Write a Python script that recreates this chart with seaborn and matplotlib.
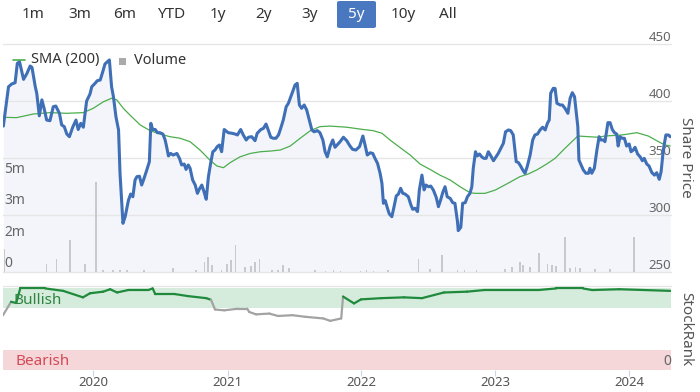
import numpy as np
import pandas as pd
import matplotlib.pyplot as plt
import matplotlib.dates as mdates
import matplotlib.transforms as mtransforms
from matplotlib.collections import LineCollection
from matplotlib.lines import Line2D
from matplotlib.patches import FancyBboxPatch, Rectangle
import seaborn as sns

# --- data ---
range_buttons = ["1m", "3m", "6m", "YTD", "1y", "2y", "3y", "5y", "10y", "All"]
selected_range = "5y"
year_labels = ["2020", "2021", "2022", "2023", "2024"]
price_ticks = [250, 300, 350, 400, 450]
volume_ticks = [0, 1.6, 3.2, 4.8]
volume_tick_labels = ["0", "2m", "3m", "5m"]

price_dates = [
    "2019-05-01", "2019-05-15", "2019-05-24", "2019-06-02", "2019-06-08", "2019-06-14", "2019-06-25",
    "2019-07-04", "2019-07-13", "2019-07-18", "2019-07-27", "2019-07-31", "2019-08-07", "2019-08-14",
    "2019-08-20", "2019-08-27", "2019-09-05", "2019-09-14", "2019-09-21", "2019-10-01", "2019-10-07",
    "2019-10-14", "2019-10-21", "2019-10-28", "2019-11-06", "2019-11-15", "2019-11-21", "2019-11-28",
    "2019-12-05", "2019-12-14", "2019-12-23", "2019-12-28", "2020-01-06", "2020-01-12", "2020-01-20",
    "2020-01-27", "2020-02-02", "2020-02-09", "2020-02-14", "2020-02-20", "2020-02-25", "2020-03-03",
    "2020-03-10", "2020-03-14", "2020-03-22", "2020-03-28", "2020-04-06", "2020-04-12", "2020-04-18",
    "2020-04-24", "2020-04-29", "2020-05-06", "2020-05-12", "2020-05-17", "2020-05-26", "2020-06-02",
    "2020-06-06", "2020-06-11", "2020-06-18", "2020-06-24", "2020-07-01", "2020-07-09", "2020-07-15",
    "2020-07-19", "2020-07-24", "2020-07-30", "2020-08-06", "2020-08-16", "2020-08-23", "2020-08-29",
    "2020-09-05", "2020-09-10", "2020-09-16", "2020-09-21", "2020-09-28", "2020-10-05", "2020-10-11",
    "2020-10-16", "2020-10-23", "2020-10-29", "2020-11-04", "2020-11-10", "2020-11-16", "2020-11-22",
    "2020-11-28", "2020-12-04", "2020-12-10", "2020-12-16", "2020-12-23", "2021-01-03", "2021-01-13",
    "2021-01-22", "2021-01-28", "2021-02-06", "2021-02-13", "2021-02-21", "2021-02-27", "2021-03-08",
    "2021-03-17", "2021-03-23", "2021-04-02", "2021-04-09", "2021-04-16", "2021-04-22", "2021-04-29",
    "2021-05-06", "2021-05-13", "2021-05-20", "2021-05-26", "2021-06-02", "2021-06-10", "2021-06-16",
    "2021-06-22", "2021-06-30", "2021-07-04", "2021-07-10", "2021-07-16", "2021-07-22", "2021-07-29",
    "2021-08-05", "2021-08-12", "2021-08-19", "2021-08-25", "2021-09-03", "2021-09-10", "2021-09-18",
    "2021-09-24", "2021-09-30", "2021-10-08", "2021-10-15", "2021-10-21", "2021-11-04", "2021-11-13",
    "2021-11-22", "2021-12-01", "2021-12-08", "2021-12-17", "2021-12-27", "2022-01-05", "2022-01-11",
    "2022-01-17", "2022-01-25", "2022-02-01", "2022-02-07", "2022-02-14", "2022-02-21", "2022-02-26",
    "2022-03-02", "2022-03-07", "2022-03-13", "2022-03-18", "2022-03-25", "2022-03-31", "2022-04-06",
    "2022-04-12", "2022-04-18", "2022-04-24", "2022-04-30", "2022-05-09", "2022-05-16", "2022-05-21",
    "2022-05-27", "2022-06-03", "2022-06-08", "2022-06-15", "2022-06-21", "2022-06-26", "2022-07-03",
    "2022-07-09", "2022-07-16", "2022-07-24", "2022-07-30", "2022-08-05", "2022-08-11", "2022-08-17",
    "2022-08-23", "2022-08-31", "2022-09-07", "2022-09-13", "2022-09-20", "2022-09-22", "2022-09-29",
    "2022-10-04", "2022-10-11", "2022-10-17", "2022-10-24", "2022-10-29", "2022-11-02", "2022-11-08",
    "2022-11-13", "2022-11-19", "2022-11-25", "2022-12-01", "2022-12-07", "2022-12-13", "2022-12-20",
    "2022-12-27", "2023-01-03", "2023-01-09", "2023-01-16", "2023-01-23", "2023-01-29", "2023-02-06",
    "2023-02-12", "2023-02-19", "2023-02-27", "2023-03-05", "2023-03-11", "2023-03-18", "2023-03-23",
    "2023-03-29", "2023-04-06", "2023-04-13", "2023-04-19", "2023-04-26", "2023-05-03", "2023-05-10",
    "2023-05-17", "2023-05-23", "2023-05-28", "2023-06-01", "2023-06-08", "2023-06-13", "2023-06-18",
    "2023-06-27", "2023-07-03", "2023-07-10", "2023-07-18", "2023-07-24", "2023-07-30", "2023-08-05",
    "2023-08-08", "2023-08-14", "2023-08-17", "2023-08-23", "2023-08-29", "2023-09-05", "2023-09-12",
    "2023-09-16", "2023-09-21", "2023-09-28", "2023-10-05", "2023-10-11", "2023-10-16", "2023-10-23",
    "2023-10-27", "2023-11-04", "2023-11-10", "2023-11-16", "2023-11-22", "2023-11-28", "2023-12-02",
    "2023-12-07", "2023-12-13", "2023-12-19", "2023-12-25", "2024-01-01", "2024-01-06", "2024-01-12",
    "2024-01-17", "2024-01-24", "2024-01-31", "2024-02-06", "2024-02-11", "2024-02-18", "2024-02-24",
    "2024-03-03", "2024-03-10", "2024-03-16", "2024-03-23", "2024-03-28", "2024-04-03", "2024-04-10",
    "2024-04-17", "2024-04-22",
]
price_values = [
    378, 412.5, 415, 416, 433, 434.5, 419,
    424, 430.7, 429.5, 412.5, 406.8, 387, 401,
    393.6, 383.3, 382.7, 395, 395.6, 389, 379,
    377.5, 371, 368.7, 377, 383.3, 375, 380.4,
    377, 400, 406, 412.5, 415.5, 417.8, 418.4,
    425.7, 432.5, 434.5, 436, 412.5, 403.8, 386,
    374.6, 336.6, 292.7, 298.5, 313, 318.4, 316,
    330.7, 333.6, 334, 326.3, 330.7, 339.5, 346.8,
    380.4, 375, 375, 372.2, 372.2, 371, 365.8,
    360, 351.8, 354, 352.6, 354, 349.7, 343.9,
    344.7, 340, 343.9, 341, 330.7, 326.3, 319,
    322.5, 326.3, 320.4, 313.8, 333.6, 345.3, 355.5,
    357, 360, 361.4, 355.5, 375, 372.2, 371.7,
    371, 370.2, 375, 370.2, 365.8, 368.2, 368.7,
    365.2, 371.7, 375, 376, 379.8, 374.6, 368.2,
    367.3, 367.3, 370.2, 376, 383.3, 395, 398,
    403.2, 410.3, 414, 415.5, 396.5, 393.6, 396.5,
    392, 383.3, 374.6, 373, 374, 372.2, 365.8,
    355.5, 351, 360.5, 365.8, 359.4, 364.3, 368.2,
    365.2, 360.5, 357.6, 357, 360, 369.3, 361.4,
    352.6, 354.6, 354, 349.7, 345.3, 336.6, 327.8,
    310.3, 312.6, 306, 301, 298.5, 307.3, 316.7,
    318.4, 323.4, 319, 318.4, 316, 308.8, 305,
    305.9, 303, 322, 335, 322, 326.3, 324.8,
    325.4, 322, 315.5, 307.3, 313.2, 320, 324.8,
    316, 314.6, 310.8, 310.3, 294, 286.3, 289.2,
    310.3, 310.8, 316, 319, 324.8, 341, 355.5,
    351.8, 353.5, 351, 349.7, 349.7, 355.5, 351.8,
    347.6, 351, 354, 358.5, 362.9, 373, 374.6,
    374, 370.2, 346.8, 346, 343, 338.9, 336.6,
    342.5, 352.6, 365.8, 370.2, 371, 374.6, 377,
    374.6, 380.4, 383.3, 406.8, 411.1, 411, 398,
    396.5, 396.5, 393.6, 389.2, 402.4, 407.3, 403.8,
    395, 377.5, 348.2, 343.9, 339.5, 336.6, 336.6,
    341, 336.6, 341, 357, 368.7, 365.8, 365.8,
    364.3, 381, 381, 375, 372.2, 371, 360.5,
    368.7, 367.3, 367.3, 360.5, 362.3, 355.5, 357,
    359.4, 353.5, 351, 347.6, 349.7, 344.7, 343,
    337.1, 335, 337.1, 331.3, 338, 357, 370.2,
    370.2, 368.7,
]

sma_dates = [
    "2019-05-01", "2019-06-06", "2019-07-22", "2019-09-05", "2019-10-21", "2019-12-05", "2020-01-01",
    "2020-01-29", "2020-02-20", "2020-03-05", "2020-03-23", "2020-04-10", "2020-05-08", "2020-06-04",
    "2020-07-01", "2020-07-28", "2020-08-25", "2020-09-21", "2020-10-18", "2020-11-14", "2020-12-03",
    "2020-12-21", "2021-01-08", "2021-02-04", "2021-03-04", "2021-04-01", "2021-04-28", "2021-05-25",
    "2021-06-21", "2021-07-18", "2021-08-15", "2021-09-10", "2021-10-08", "2021-11-22", "2022-01-06",
    "2022-02-02", "2022-02-26", "2022-03-20", "2022-04-07", "2022-05-14", "2022-06-10", "2022-07-07",
    "2022-08-03", "2022-08-31", "2022-09-27", "2022-10-24", "2022-11-06", "2022-12-04", "2023-01-01",
    "2023-02-01", "2023-03-09", "2023-04-01", "2023-04-24", "2023-05-21", "2023-06-13", "2023-07-10",
    "2023-08-14", "2023-09-12", "2023-10-09", "2023-10-27", "2023-12-12", "2024-01-22", "2024-02-22",
    "2024-03-21", "2024-04-08", "2024-04-22",
]
sma_values = [
    385.7, 385.4, 388.6, 389.8, 389.2, 389.8, 393.6,
    399.4, 402.4, 401, 393.6, 387.7, 379, 374,
    371, 368.7, 367.3, 364.3, 357, 348.2, 343,
    341.5, 345.9, 351, 354, 355.5, 356.1, 357,
    360.5, 367.3, 374, 377.5, 378, 377, 375,
    374, 371.7, 365.8, 361.4, 352.6, 344.7, 340,
    335, 330.7, 324.8, 319.6, 319, 319, 321.9,
    327.2, 333.6, 336, 339.5, 344.7, 349.7, 358.5,
    369.3, 368.7, 368.2, 369.3, 370.2, 372.2, 369.3,
    364.3, 361.4, 360.5,
]

# volume in millions of shares
volume_dates = [
    "2019-05-04", "2019-08-27", "2019-09-23", "2019-10-30", "2019-12-10", "2020-01-08", "2020-01-27",
    "2020-02-24", "2020-03-14", "2020-04-02", "2020-05-19", "2020-08-06", "2020-10-07", "2020-10-30",
    "2020-11-09", "2020-11-19", "2020-12-16", "2020-12-30", "2021-01-10", "2021-01-23", "2021-02-18",
    "2021-03-06", "2021-03-17", "2021-03-29", "2021-05-03", "2021-05-19", "2021-06-01", "2021-06-18",
    "2021-08-28", "2021-09-25", "2021-10-17", "2021-11-05", "2021-12-30", "2022-01-15", "2022-02-03",
    "2022-03-15", "2022-06-06", "2022-07-07", "2022-08-08", "2022-09-20", "2022-10-09", "2022-11-11",
    "2023-01-28", "2023-02-15", "2023-03-09", "2023-03-18", "2023-04-06", "2023-05-01", "2023-05-23",
    "2023-06-04", "2023-06-16", "2023-07-10", "2023-07-24", "2023-08-08", "2023-08-20", "2023-09-30",
    "2023-11-10", "2024-01-14",
]
volume_values = [
    1.15, 0.42, 0.64, 1.6, 0.42, 4.57, 0.12,
    0.1, 0.1, 0.1, 0.08, 0.2, 0.1, 0.5,
    0.76, 0.35, 0.08, 0.4, 0.6, 1.35, 0.25,
    0.3, 0.5, 0.64, 0.1, 0.1, 0.35, 0.2,
    0.08, 0.06, 0.08, 0.06, 0.06, 0.08, 0.06,
    0.08, 0.68, 0.15, 0.85, 0.1, 0.08, 0.08,
    0.15, 0.25, 0.5, 0.35, 0.25, 0.98, 0.42,
    0.37, 0.3, 1.78, 0.2, 0.25, 0.2, 0.15,
    0.15, 1.78,
]

rank_dates = [
    "2019-04-30", "2019-05-22", "2019-06-05", "2019-06-16", "2019-08-23", "2019-10-11", "2019-12-04",
    "2019-12-23", "2020-01-28", "2020-02-16", "2020-03-06", "2020-04-05", "2020-05-30", "2020-06-11",
    "2020-06-18", "2020-08-11", "2020-09-16", "2020-11-04", "2020-11-17", "2020-11-28", "2020-12-23",
    "2021-01-30", "2021-02-24", "2021-03-01", "2021-03-20", "2021-04-25", "2021-05-19", "2021-06-27",
    "2021-08-01", "2021-09-19", "2021-10-08", "2021-11-07", "2021-11-12", "2021-12-12", "2021-12-31",
    "2022-02-24", "2022-04-27", "2022-06-15", "2022-08-14", "2022-10-16", "2022-12-01", "2023-02-27",
    "2023-04-28", "2023-06-16", "2023-08-28", "2023-09-22", "2023-12-05", "2024-04-22",
]
rank_values = [
    67, 83.5, 82, 100, 100, 97, 89,
    94, 96, 99, 95, 98, 98, 100,
    93, 93, 90.5, 88, 86, 74, 73,
    75, 75, 71, 68, 69, 66, 67,
    65, 63, 60, 63, 90, 81.5, 86.5,
    88, 89, 88, 95, 96, 98, 98,
    98, 100, 100, 98, 99, 97,
]
bullish_band = (76, 100)
bearish_band = (0, 24)

# --- styling ---
sns.set_theme(style="white")
plt.rcParams["font.family"] = ["Noto Sans", "DejaVu Sans"]

W, H = 700, 392
fig = plt.figure(figsize=(W / 100, H / 100), dpi=100)

x_start, x_end = pd.Timestamp("2019-04-30"), pd.Timestamp("2024-04-24")
left, right = 3, 671
top_pos = [left / W, 1 - 272 / H, (right - left) / W, (272 - 44) / H]
rank_pos = [left / W, 1 - 369.5 / H, (right - left) / W, (369.5 - 286) / H]

blue = "#3f6fb6"
sma_green = "#4cae4c"
grid_c = "#e6e6e6"
label_c = "#666666"

ax_fill = fig.add_axes(top_pos)
ax_vol = fig.add_axes(top_pos)
ax_price = fig.add_axes(top_pos)
ax_rank = fig.add_axes(rank_pos)

price_dt = pd.to_datetime(price_dates)
for a in (ax_fill, ax_vol, ax_price, ax_rank):
    a.set_xlim(x_start, x_end)
    a.patch.set_visible(False)
    for s in a.spines.values():
        s.set_visible(False)
for a in (ax_fill, ax_vol, ax_price):
    a.set_xticks([])
    a.set_yticks([])

# area + grid (price scale)
ax_fill.set_ylim(250, 450)
ax_fill.fill_between(price_dt, price_values, 250, color="#f3f5fa", lw=0)
for p in price_ticks:
    ax_fill.axhline(p, color=grid_c, lw=1, clip_on=False)
    ax_fill.annotate(str(p), xy=(1, p), xycoords=("axes fraction", "data"),
                     xytext=(0, 2.5), textcoords="offset points",
                     ha="right", va="baseline", fontsize=9.5, color=label_c)

# volume bars
ax_vol.set_ylim(0, 228 / 19.7)
ax_vol.bar(pd.to_datetime(volume_dates), volume_values, width=4.5, color="#c8c8cd", lw=0)
for v, lbl in zip(volume_ticks, volume_tick_labels):
    ax_vol.annotate(lbl, xy=(0, v), xycoords=("axes fraction", "data"),
                    xytext=(1, 3.5), textcoords="offset points",
                    ha="left", va="baseline", fontsize=10, color=label_c)

# price + SMA
ax_price.set_ylim(250, 450)
sns.lineplot(x=pd.to_datetime(sma_dates), y=sma_values, ax=ax_price, color=sma_green, linewidth=0.9)
sns.lineplot(x=price_dt, y=price_values, ax=ax_price, color=blue, linewidth=2.2)
ax_price.set_xlabel("")
ax_price.set_ylabel("")
ax_price.set_xlim(x_start, x_end)
ax_price.set_xticks([])
ax_price.set_yticks([])

# legend
fig.add_artist(Line2D([13 / W, 25 / W], [1 - 60 / H] * 2, color=sma_green, lw=1.2))
fig.text(31 / W, 1 - 60 / H, "SMA (200)", fontsize=10.5, color="#333333", va="center")
fig.add_artist(Rectangle((119 / W, 1 - 65 / H), 7 / W, 7 / H, color="#aaaaaa", lw=0))
fig.text(134 / W, 1 - 60 / H, "Volume", fontsize=10.5, color="#333333", va="center")

fig.text(686 / W, 1 - 157 / H, "Share Price", rotation=-90, fontsize=11, color="#555555",
         ha="center", va="center")

# StockRank panel
rank_dt = pd.to_datetime(rank_dates)
ax_rank.set_ylim(0, 103)
ax_rank.axhspan(*bullish_band, color="#d5ebdc", lw=0)
ax_rank.axhspan(*bearish_band, color="#f5d6d9", lw=0)
ax_rank.axhline(103, color=grid_c, lw=1, clip_on=False)
rx = mdates.date2num(rank_dt)
ry = np.array(rank_values, dtype=float)
pts = np.column_stack([rx, ry])
segs = np.stack([pts[:-1], pts[1:]], axis=1)
cols = ["#1f8a3b" if min(a, b) >= bullish_band[0] else "#a3a3a3" for a, b in zip(ry[:-1], ry[1:])]
ax_rank.add_collection(LineCollection(segs, colors=cols, linewidths=1.6, capstyle="round"))
ax_rank.set_yticks([])
ax_rank.set_xticks(pd.to_datetime([f"{y}-01-01" for y in year_labels]))
ax_rank.set_xticklabels(year_labels)
ax_rank.tick_params(axis="x", bottom=True, direction="out", length=4, width=0.8,
                    color="#ccd6eb", labelsize=9.5, labelcolor="#555555", pad=0.5)
ax_rank.grid(False)

trans = mtransforms.blended_transform_factory(ax_rank.transAxes, ax_rank.transData)
ax_rank.text(0.015, 84.5, "Bullish", transform=trans, fontsize=11, color="#2e8540", va="center")
ax_rank.text(0.018, 9.3, "Bearish", transform=trans, fontsize=11, color="#d24a57", va="center")
ax_rank.text(1.0, 9.3, "0", transform=trans, fontsize=10, color=label_c, ha="right", va="center")

fig.text(686 / W, 1 - 329 / H, "StockRank", rotation=-90, fontsize=11, color="#555555",
         ha="center", va="center")

# range selector buttons
button_x = [33, 80, 125, 171, 218, 264, 310, 356, 403, 448]
for name, bx in zip(range_buttons, button_x):
    if name == selected_range:
        fig.add_artist(FancyBboxPatch((337 / W, 1 - 28 / H), 39 / W, 27 / H,
                                      boxstyle="round,pad=0,rounding_size=0.004",
                                      color="#4a78c0", lw=0))
        fig.text(bx / W, 1 - 15 / H, name, fontsize=11, color="white", ha="center", va="center")
    else:
        fig.text(bx / W, 1 - 15 / H, name, fontsize=11, color="#333333", ha="center", va="center")

fig.savefig("out.png", dpi=100)
